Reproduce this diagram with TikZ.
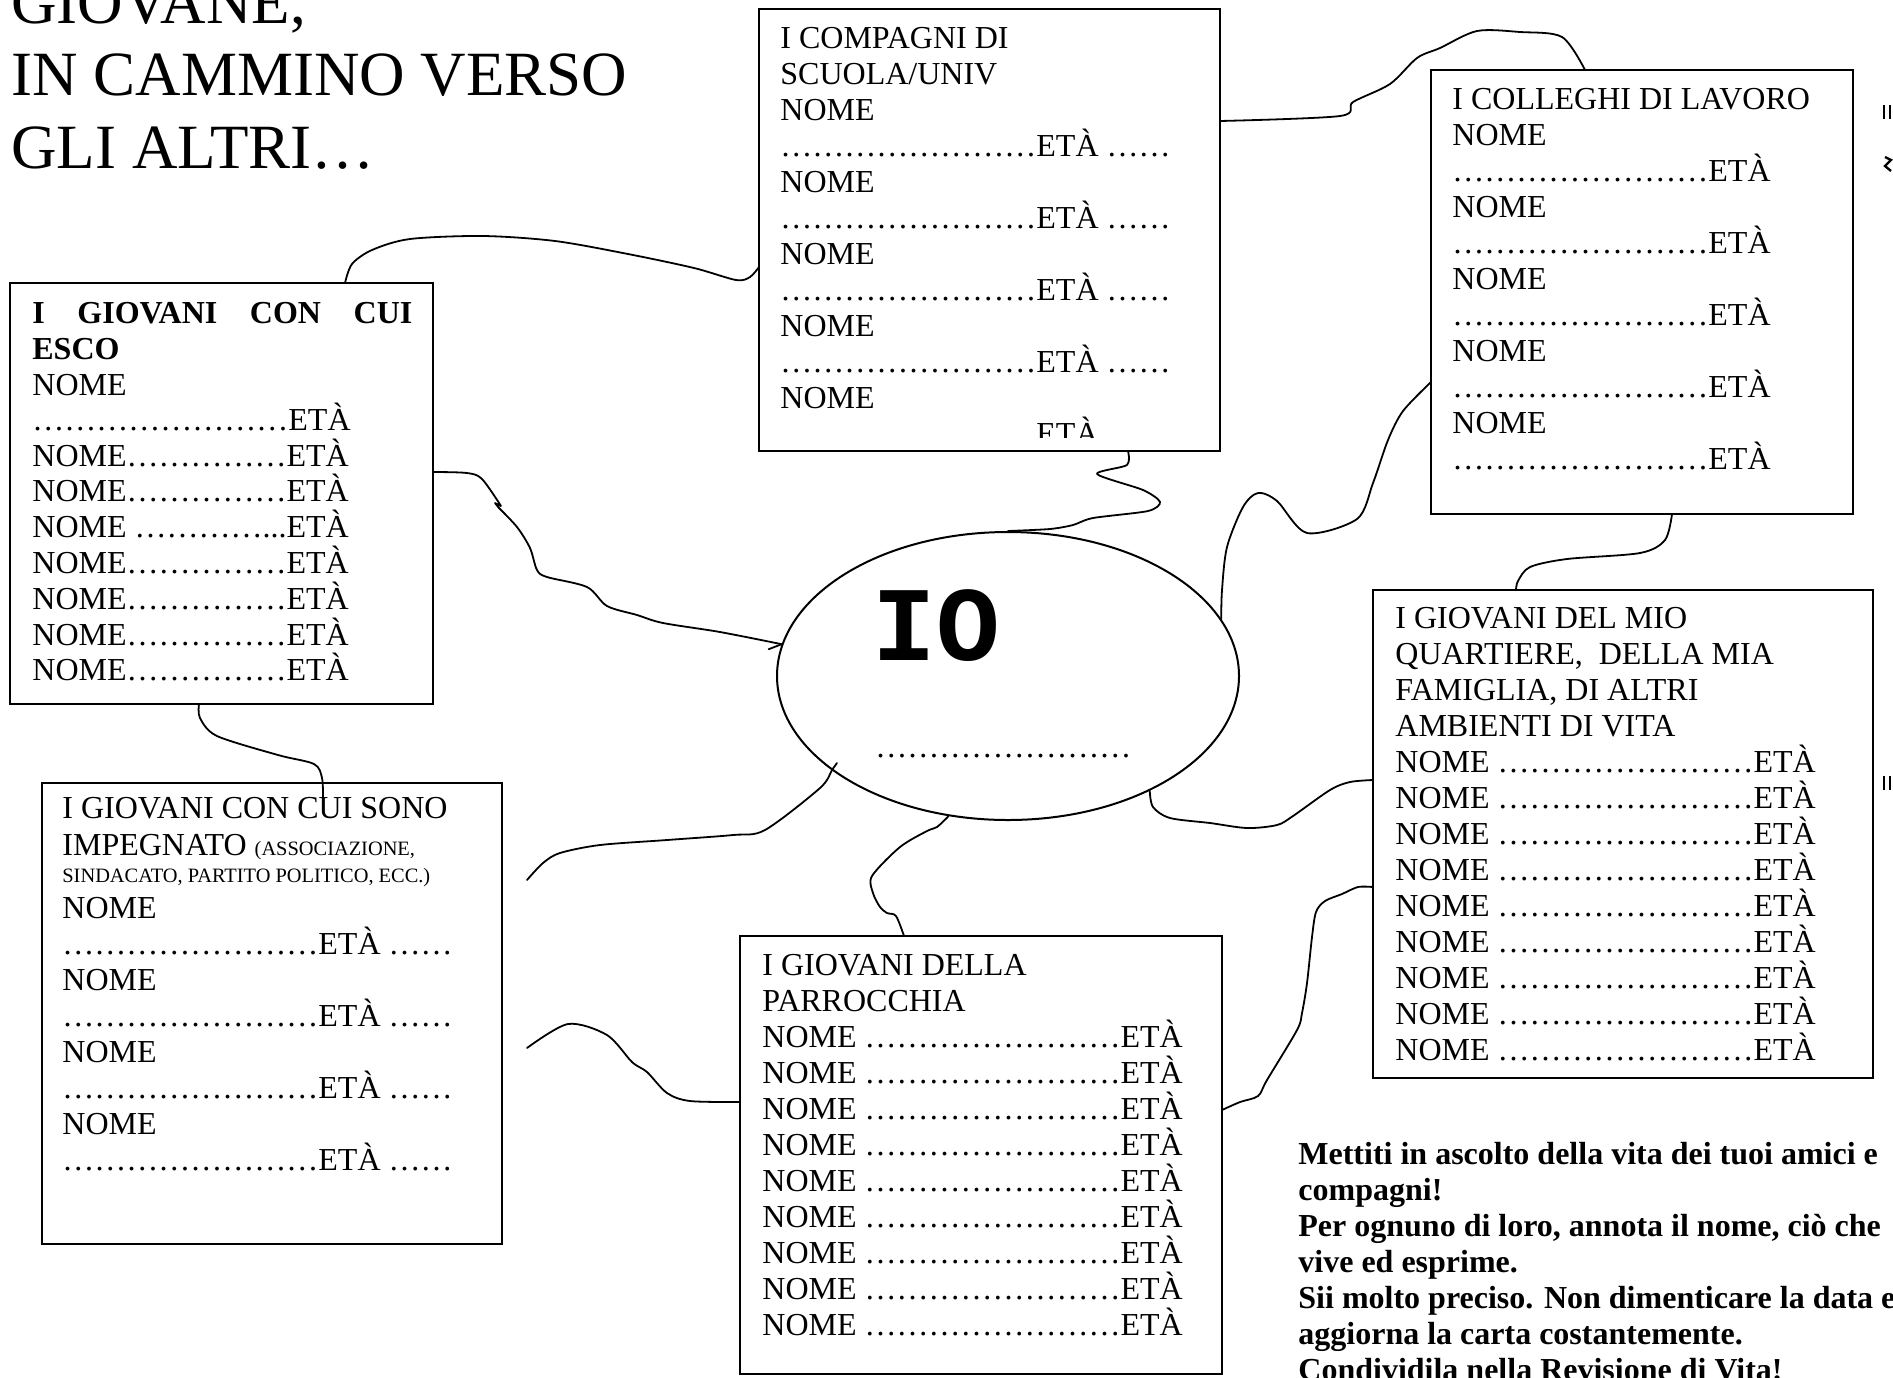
\documentclass[tikz,border=0pt]{standalone}
\usepackage{fontspec}
\setmainfont{Liberation Serif}
\newfontfamily\monofam{Liberation Mono}
\usetikzlibrary{shapes.geometric,calc}

\newcommand{\boxfont}{\fontsize{16pt}{18pt}\selectfont}
\newcommand{\tinyfont}{\fontsize{10.2pt}{12pt}\selectfont}
\newcommand{\titlefont}{\fontsize{31.5pt}{36pt}\selectfont}
\newcommand{\puntini}{……………………}
\newcommand{\dueputi}{……}

\begin{document}
\begin{tikzpicture}[x=0.5pt,y=0.5pt,yscale=-1,xscale=1,
  riga/.style={anchor=base west, inner sep=0pt, font=\boxfont},
  grassetto/.style={riga, font=\boxfont\bfseries},
  scheda/.style={draw, line width=1pt, anchor=north west, inner sep=0pt, outer sep=0pt},
  filo/.style={line width=0.9pt, line join=round, line cap=round}]
%set diagram to the page: 1893 x 1377
\useasboundingbox (0,0) rectangle (1893,1377);
\clip (0,0) rectangle (1893,1377);

% Text Node
\node[riga, font=\titlefont] (tit1) at (11,23) {GIOVANE,};
\node[riga, font=\titlefont] (tit2) at (11,95) {IN CAMMINO VERSO};
\node[riga, font=\titlefont] (tit3) at (11,168) {GLI ALTRI…};

%Shape: Rectangle
\node[scheda, minimum width=211.5pt, minimum height=210.5pt] (esco) at (10,283) {};
%Shape: Rectangle
\node[scheda, minimum width=230.5pt, minimum height=221pt] (compagni) at (759,9) {};
%Shape: Rectangle
\node[scheda, minimum width=211pt, minimum height=222pt] (colleghi) at (1431,70) {};
%Shape: Rectangle
\node[scheda, minimum width=250pt, minimum height=244pt] (quartiere) at (1373,590) {};
%Shape: Rectangle
\node[scheda, minimum width=230pt, minimum height=230.5pt] (impegnato) at (42,783) {};
%Shape: Rectangle
\node[scheda, minimum width=241pt, minimum height=219pt] (parrocchia) at (740,936) {};
%Shape: Ellipse
\node[draw, ellipse, line width=1pt, minimum width=231pt, minimum height=144pt, inner sep=0pt] (io) at (1008,676) {};

% Text Node
\node[grassetto] (esco-t1) at (32,323) {\makebox[190pt][s]{I GIOVANI CON CUI}};
\node[grassetto] (esco-t2) at (32,359) {ESCO};
\node[riga] (esco-n) at (32,395) {NOME};
\node[riga] (esco-d) at (32,430) {\puntini ETÀ};
\foreach \k in {0,1,3,4,5,6}
  \node[riga] (esco-r\k) at (32,466+35.8*\k) {NOME……………ETÀ};
\node[riga] (esco-r2) at (32,537.6) {NOME …………...ETÀ};

% Text Node
\begin{scope}
\clip (759,9) rectangle (1220,437);
\node[riga] (comp-t1) at (780,48) {I COMPAGNI DI};
\node[riga] (comp-t2) at (780,84) {SCUOLA/UNIV};
\foreach \j in {0,...,4} {
  \node[riga] (comp-n\j) at (780,120+72*\j) {NOME};
  \node[riga] (comp-d\j) at (780,156+72*\j) {\puntini ETÀ \dueputi};
}
\end{scope}

% Text Node
\node[riga] (coll-t) at (1452,109) {I COLLEGHI DI LAVORO};
\foreach \j in {0,...,4} {
  \node[riga] (coll-n\j) at (1452,145+72*\j) {NOME};
  \node[riga] (coll-d\j) at (1452,181+72*\j) {\puntini ETÀ};
}

% Text Node
\node[riga] (quar-t1) at (1395,628) {I GIOVANI DEL MIO};
\node[riga] (quar-t2) at (1395,664) {QUARTIERE,\ \ DELLA MIA};
\node[riga] (quar-t3) at (1395,700) {FAMIGLIA, DI ALTRI};
\node[riga] (quar-t4) at (1395,736) {AMBIENTI DI VITA};
\foreach \k in {0,...,8}
  \node[riga] (quar-r\k) at (1395,772+36*\k) {NOME \puntini ETÀ};

% Text Node
\node[riga] (imp-t1) at (62,818) {I GIOVANI CON CUI SONO};
\node[riga] (imp-t2) at (62,855) {IMPEGNATO {\tinyfont (ASSOCIAZIONE,}};
\node[riga, font=\tinyfont] (imp-t3) at (62,882) {SINDACATO, PARTITO POLITICO, ECC.)};
\foreach \j in {0,...,3} {
  \node[riga] (imp-n\j) at (62,918+72*\j) {NOME};
  \node[riga] (imp-d\j) at (62,954+72*\j) {\puntini ETÀ \dueputi};
}

% Text Node
\node[riga] (parr-t1) at (762,975) {I GIOVANI DELLA};
\node[riga] (parr-t2) at (762,1011) {PARROCCHIA};
\foreach \k in {0,...,8}
  \node[riga] (parr-r\k) at (762,1047+36*\k) {NOME \puntini ETÀ};

% Text Node
\node[riga, font=\monofam\bfseries\fontsize{53pt}{53pt}\selectfont] (io-nome) at (872,660) {IO};
\node[riga] (io-riga) at (875,757) {\puntini};

% Text Node
\foreach \k/\frase in {0/{Mettiti in ascolto della vita dei tuoi amici e},
    1/{compagni!}, 2/{Per ognuno di loro, annota il nome, ciò che},
    3/{vive ed esprime.}, 4/{Sii molto preciso. Non dimenticare la data e},
    5/{aggiorna la carta costantemente.}, 6/{Condividila nella Revisione di Vita!}}
  \node[grassetto] (nota-\k) at (1298,1164+36*\k) {\frase};

\coordinate (imp-aggancio) at ($(impegnato.north -| 323,0)+(0,17)$);
\coordinate (io-dentro) at ($(io.center)+(-171,87)$);
\coordinate (capo-a) at (527,880);
\coordinate (capo-b) at (527,1048);

%Curve Lines
\draw[filo] plot[smooth, tension=0.5] coordinates {(esco.north -| 345,0) (352,264) (372,250) (410,239) (483,236) (555,241) (628,254) (694,268) (736,280) (750,277) (compagni.west |- 0,267)};
%Curve Lines
\draw[filo] plot[smooth, tension=0.5] coordinates {(compagni.east |- 0,121) (1340,116) (1353,102) (1390,84) (1417,58) (1440,48) (1477,31) (1520,32) (1562,37) (colleghi.north -| 1585,0)};
%Curve Lines
\draw[filo] plot[smooth, tension=0.5] coordinates {(colleghi.west |- 0,382) (1403,411) (1388,440) (1373,483) (1357,519) (1307,533) (1277,501) (1258,493) (1243,507) (1227,547) (1222,590) (io.15)};
%Curve Lines
\draw[filo] plot[smooth, tension=0.45] coordinates {(compagni.south -| 1128,0) (1127,465) (1097,474) (1143,490) (1160,502) (1148,511) (1093,518) (1073,525) (1050,529) (io.north)};
%Curve Lines
\draw[filo] plot[smooth, tension=0.5] coordinates {(esco.east |- 0,472) (467,473) (482,479) (501,506)} -- (495,503)
  -- plot[smooth, tension=0.5] coordinates {(499,508) (517,527) (530,548) (537,570) (547,577) (587,587) (607,606) (637,615) (663,623) (720,632) (io.172)};
\draw[filo] (io.172) -- ++(-13,5);
%Curve Lines
\draw[filo] plot[smooth, tension=0.5] coordinates {(esco.south -| 199,0) (200,718) (217,736) (278,755) (314,764) (322,778) (imp-aggancio)};
%Curve Lines
\draw[filo] plot[smooth, tension=0.5] coordinates {(io-dentro) (832,770) (820,788) (765,830) (733,835) (667,840) (600,845) (560,853) (543,863) (capo-a)};
%Curve Lines
\draw[filo] plot[smooth, tension=0.5] coordinates {(io.-113) (937,827) (927,831) (900,847) (872,876) (873,893) (880,907) (887,913) (896,916) (parrocchia.north -| 904,0)};
%Curve Lines
\draw[filo] plot[smooth, tension=0.5] coordinates {(io.-39) (1153,807) (1170,818) (1210,823) (1247,828) (1277,825) (1293,816) (1330,790) (1350,782) (quartiere.west |- 0,780)};
%Curve Lines
\draw[filo] plot[smooth, tension=0.5] coordinates {(parrocchia.east |- 0,1110) (1240,1102) (1258,1096) (1267,1080) (1297,1030) (1302,1013) (1307,983) (1312,937) (1316,912) (1325,901) (1342,894) (1358,887) (quartiere.west |- 0,887)};
%Curve Lines
\draw[filo] plot[smooth, tension=0.5] coordinates {(colleghi.south -| 1672,0) (1665,540) (1640,553) (1567,559) (1530,567) (1518,581) (quartiere.north -| 1516,0)};
%Curve Lines
\draw[filo] plot[smooth, tension=0.5] coordinates {(capo-b) (568,1024) (607,1035) (632,1062) (647,1072) (667,1093) (690,1101) (parrocchia.west |- 0,1102)};

%Straight Lines: cut marks at the right edge
\draw[line width=1.2pt] (1884,105) -- (1884,119) (1890,105) -- (1890,119);
\draw[line width=1.2pt] (1885,157) -- (1891,160) -- (1885,166) -- (1891,171);
\draw[line width=1.2pt] (1884,776) -- (1884,790) (1890,776) -- (1890,790);

\end{tikzpicture}
\end{document}
